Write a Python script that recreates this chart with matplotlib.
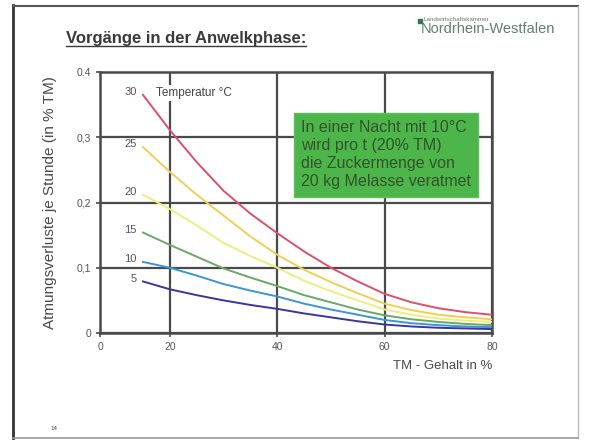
import matplotlib.pyplot as plt
from matplotlib.lines import Line2D
from matplotlib.patches import Rectangle

plt.rcParams['font.family'] = ['Liberation Sans', 'DejaVu Sans']

# TM-Gehalt (%) und Atmungsverluste je Stunde (% TM) je Temperatur
tm = [15, 20, 25, 30, 35, 40, 45, 50, 55, 60, 65, 70, 75, 80]
temps = [30, 25, 20, 15, 10, 5]
loss_30 = [0.365, 0.311, 0.262, 0.218, 0.183, 0.153, 0.125, 0.100, 0.079, 0.060, 0.047, 0.038, 0.032, 0.028]
loss_25 = [0.285, 0.247, 0.212, 0.180, 0.148, 0.120, 0.097, 0.078, 0.061, 0.045, 0.035, 0.028, 0.024, 0.021]
loss_20 = [0.212, 0.190, 0.165, 0.138, 0.118, 0.100, 0.080, 0.064, 0.050, 0.036, 0.028, 0.022, 0.019, 0.017]
loss_15 = [0.154, 0.135, 0.117, 0.099, 0.085, 0.072, 0.058, 0.047, 0.036, 0.027, 0.021, 0.017, 0.014, 0.012]
loss_10 = [0.109, 0.100, 0.088, 0.075, 0.065, 0.056, 0.045, 0.036, 0.028, 0.020, 0.015, 0.012, 0.010, 0.009]
loss_5 = [0.079, 0.067, 0.058, 0.050, 0.043, 0.037, 0.030, 0.024, 0.018, 0.013, 0.010, 0.008, 0.007, 0.006]
series = [loss_30, loss_25, loss_20, loss_15, loss_10, loss_5]
colors = ['#de4f68', '#f2cf52', '#eeee7c', '#6aa864', '#3a96d6', '#38389c']

x_ticks = [7, 20, 40, 60, 80]
x_labels = ['0', '20', '40', '60', '80']
y_ticks = [0, 0.1, 0.2, 0.3, 0.4]
y_labels = ['0', '0,1', '0,2', '0,3', '0.4']

fig = plt.figure(figsize=(5.91, 4.41), dpi=100)
W, H = 591, 441

def fx(px):
    return px / W

def fy(py):
    return 1 - py / H

# Folienrahmen
fig.add_artist(Line2D([fx(13), fx(13)], [fy(5), fy(438)], color='#333333', lw=2))
fig.add_artist(Line2D([fx(13), fx(578)], [fy(6), fy(6)], color='#555555', lw=1.5))
fig.add_artist(Line2D([fx(578), fx(578)], [fy(6), fy(438)], color='#bbbbbb', lw=1))
fig.add_artist(Line2D([fx(13), fx(578)], [fy(438), fy(438)], color='#999999', lw=1.2))

# Titel mit Unterstreichung
fig.text(fx(66), fy(43), 'Vorgänge in der Anwelkphase:', fontsize=12,
         fontweight='bold', color='#3a3a3a', va='baseline')
fig.add_artist(Line2D([fx(66), fx(306)], [fy(46), fy(46)], color='#3a3a3a', lw=1))

# Logo
fig.add_artist(Rectangle((fx(418), fy(23)), 4 / W, 4 / H, color='#2f7a4a'))
fig.text(fx(424), fy(21), 'Landwirtschaftskammer', fontsize=4.5, color='#6a7a70', va='baseline')
fig.text(fx(421), fy(33), 'Nordrhein-Westfalen', fontsize=10.5, color='#5f8070', va='baseline')

fig.text(fx(50), fy(430), '14', fontsize=4.5, color='#444444', va='baseline')

ax = fig.add_axes([fx(100), fy(333), (492 - 100) / W, (333 - 72) / H])
for vals, c in zip(series, colors):
    ax.plot(tm, vals, color=c, lw=1.4, zorder=3)

ax.set_xlim(7, 80)
ax.set_ylim(0, 0.4)
ax.set_xticks(x_ticks)
ax.set_xticklabels(x_labels)
ax.set_yticks(y_ticks)
ax.set_yticklabels(y_labels)
ax.grid(True, color='#4a4a4a', lw=1.6, zorder=1)
for s in ax.spines.values():
    s.set_color('#4a4a4a')
    s.set_linewidth(1.8)
ax.tick_params(colors='#4a4a4a', labelsize=7.5, length=3, width=1.2, labelcolor='#555555')

ax.set_ylabel('Atmungsverluste je Stunde (in % TM)', fontsize=11, color='#4a4a4a', labelpad=14)
ax.set_xlabel('TM - Gehalt in %', fontsize=9.5, color='#4a4a4a', loc='right', labelpad=6)

# Temperatur-Beschriftung am Kurvenanfang
for temp, vals in zip(temps, series):
    ax.text(tm[0] - 1.2, vals[0] + 0.004, str(temp), fontsize=8, color='#555555',
            ha='right', va='center', zorder=4,
            bbox=dict(facecolor='white', edgecolor='none', pad=0.5))
ax.text(17.5, 0.368, 'Temperatur °C', fontsize=8.5, color='#444444', ha='left', va='center',
        zorder=4, bbox=dict(facecolor='white', edgecolor='none', pad=1.5))

ax.text(44.4, 0.273, 'In einer Nacht mit 10°C\nwird pro t (20% TM)\ndie Zuckermenge von\n20 kg Melasse veratmet',
        fontsize=11.5, color='#34522c', ha='left', va='center', linespacing=1.25, zorder=5,
        bbox=dict(facecolor='#4cb64a', edgecolor='#5cc05a', boxstyle='square,pad=0.45'))

fig.savefig('out.png', dpi=100, facecolor='white')
